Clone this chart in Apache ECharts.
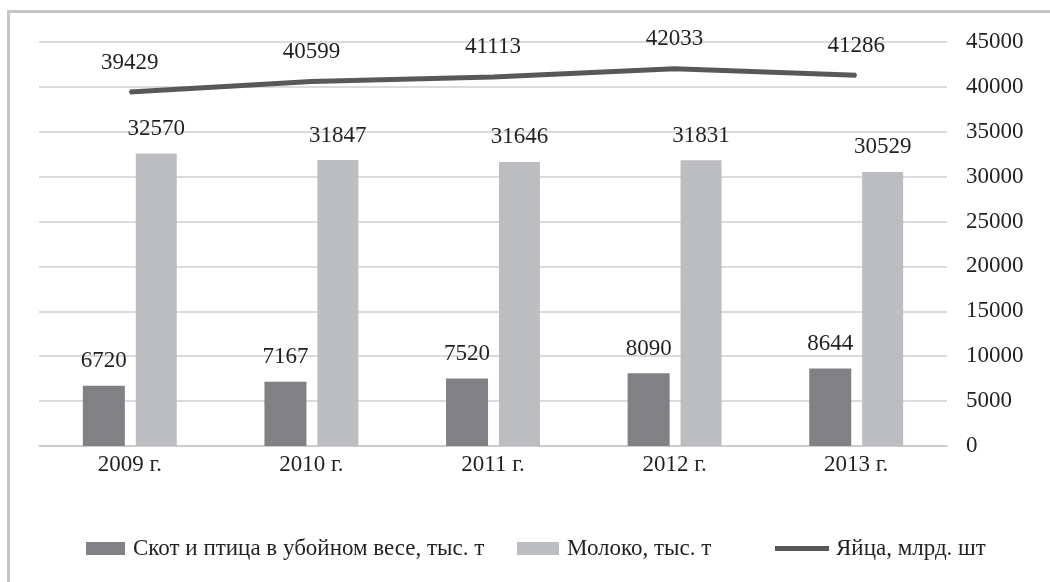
<!DOCTYPE html>
<html>
<head>
<meta charset="utf-8">
<script src="https://cdn.jsdelivr.net/npm/echarts@6/dist/echarts.min.js"></script>
<style>
html,body{margin:0;padding:0;background:#fff;}
#chart{width:1050px;height:582px;}
</style>
</head>
<body>
<div id="chart"></div>
<script>
const categories = ['2009 г.', '2010 г.', '2011 г.', '2012 г.', '2013 г.'];
const meat = [6720, 7167, 7520, 8090, 8644];
const milk = [32570, 31847, 31646, 31831, 30529];
const eggs = [39429, 40599, 41113, 42033, 41286];
const seriesNames = ['Скот и птица в убойном весе, тыс. т', 'Молоко, тыс. т', 'Яйца, млрд. шт'];

const FONT = '"Liberation Serif", "Times New Roman", serif';
const TXT = '#231f20';
const FS = 23;
const LINE_COLOR = '#58585b';

const chart = echarts.init(document.getElementById('chart'));
chart.setOption({
  animation: false,
  backgroundColor: '#fff',
  textStyle: { fontFamily: FONT, color: TXT },
  graphic: [{
    type: 'rect',
    shape: { x: 8.5, y: 11.5, width: 1100, height: 700 },
    style: { fill: 'none', stroke: '#c6c6c6', lineWidth: 3 },
    silent: true, z: -1
  }],
  grid: { left: 39, right: 103, top: 42, bottom: 136, containLabel: false },
  legend: [
    { data: [seriesNames[0]], left: 81, top: 532, itemWidth: 39, itemHeight: 13, icon: 'rect',
      textStyle: { fontFamily: FONT, fontSize: FS, color: TXT, padding: [0, 0, 0, 3] } },
    { data: [seriesNames[1]], left: 512, top: 532, itemWidth: 42, itemHeight: 13, icon: 'rect',
      textStyle: { fontFamily: FONT, fontSize: FS, color: TXT, padding: [0, 0, 0, 3] } },
    { data: [seriesNames[2]], left: 770, top: 532, itemWidth: 54, itemHeight: 5, icon: 'rect',
      itemStyle: { color: LINE_COLOR, opacity: 1 },
      textStyle: { fontFamily: FONT, fontSize: FS, color: TXT, padding: [0, 0, 0, 2] } }
  ],
  xAxis: {
    type: 'category',
    data: categories,
    axisTick: { show: false },
    axisLine: { lineStyle: { color: '#c8c8c8', width: 1.5 } },
    axisLabel: { fontFamily: FONT, fontSize: FS, color: TXT, margin: 7 }
  },
  yAxis: {
    type: 'value',
    position: 'right',
    min: 0, max: 45000, interval: 5000,
    axisLine: { show: false },
    axisTick: { show: false },
    splitLine: { lineStyle: { color: '#cfcfcf', width: 1.5 } },
    axisLabel: { fontFamily: FONT, fontSize: FS, color: TXT, margin: 19, align: 'left',
      formatter: v => String(v) }
  },
  series: [
    {
      name: seriesNames[0], type: 'bar', data: meat,
      barWidth: 42, barGap: '26%',
      itemStyle: { color: '#808085' },
      label: { show: true, position: 'top', distance: 13, fontFamily: FONT, fontSize: FS, color: TXT }
    },
    {
      name: seriesNames[1], type: 'bar', data: milk,
      barWidth: 41,
      itemStyle: { color: '#bcbdc1' },
      label: { show: true, position: 'top', distance: 13, fontFamily: FONT, fontSize: FS, color: TXT }
    },
    {
      name: seriesNames[2], type: 'line', data: eggs,
      showSymbol: true, symbol: 'circle', symbolSize: 2,
      lineStyle: { color: LINE_COLOR, width: 5 },
      itemStyle: { color: LINE_COLOR },
      label: { show: true, position: 'top', distance: 17, fontFamily: FONT, fontSize: FS, color: TXT },
      z: 5
    }
  ]
});
</script>
</body>
</html>
